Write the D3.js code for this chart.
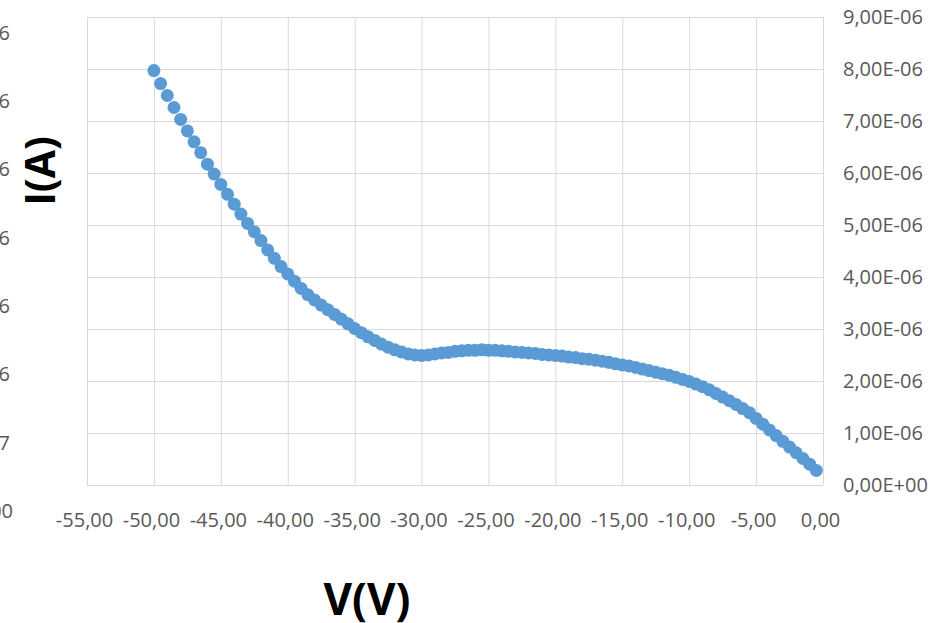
<!DOCTYPE html>
<html>
<head>
<meta charset="utf-8">
<script src="https://cdn.jsdelivr.net/npm/d3@7"></script>
<style>
  body { margin: 0; background: #fff; }
  svg { display: block; font-family: "Open Sans", sans-serif; }
  .tick text { fill: #595959; font-size: 20px; font-family: "Open Sans", sans-serif; }
  .grid line { stroke: #d9d9d9; stroke-width: 1; }
  .grid .domain { display: none; }
  .axisTitle { font-weight: bold; fill: #000; font-family: "Open Sans", sans-serif; }
</style>
</head>
<body>
<div id="chart"></div>
<script>
// measured V (volts)
var voltage = [
  -50, -49.5, -49, -48.5, -48, -47.5, -47, -46.5, -46, -45.5,
  -45, -44.5, -44, -43.5, -43, -42.5, -42, -41.5, -41, -40.5,
  -40, -39.5, -39, -38.5, -38, -37.5, -37, -36.5, -36, -35.5,
  -35, -34.5, -34, -33.5, -33, -32.5, -32, -31.5, -31, -30.5,
  -30, -29.5, -29, -28.5, -28, -27.5, -27, -26.5, -26, -25.5,
  -25, -24.5, -24, -23.5, -23, -22.5, -22, -21.5, -21, -20.5,
  -20, -19.5, -19, -18.5, -18, -17.5, -17, -16.5, -16, -15.5,
  -15, -14.5, -14, -13.5, -13, -12.5, -12, -11.5, -11, -10.5,
  -10, -9.5, -9, -8.5, -8, -7.5, -7, -6.5, -6, -5.5,
  -5, -4.5, -4, -3.5, -3, -2.5, -2, -1.5, -1, -0.5
];

// measured I (amperes)
var current = [
  7.97e-6, 7.72e-6, 7.49e-6, 7.26e-6, 7.03e-6, 6.81e-6, 6.60e-6, 6.39e-6, 6.17e-6, 5.98e-6,
  5.78e-6, 5.59e-6, 5.40e-6, 5.21e-6, 5.03e-6, 4.87e-6, 4.70e-6, 4.52e-6, 4.36e-6, 4.20e-6,
  4.06e-6, 3.92e-6, 3.78e-6, 3.66e-6, 3.56e-6, 3.46e-6, 3.37e-6, 3.28e-6, 3.19e-6, 3.10e-6,
  3.01e-6, 2.93e-6, 2.85e-6, 2.78e-6, 2.71e-6, 2.65e-6, 2.60e-6, 2.56e-6, 2.52e-6, 2.50e-6,
  2.49e-6, 2.50e-6, 2.52e-6, 2.54e-6, 2.55e-6, 2.57e-6, 2.58e-6, 2.59e-6, 2.59e-6, 2.60e-6,
  2.59e-6, 2.59e-6, 2.58e-6, 2.57e-6, 2.56e-6, 2.55e-6, 2.54e-6, 2.53e-6, 2.51e-6, 2.50e-6,
  2.49e-6, 2.48e-6, 2.46e-6, 2.45e-6, 2.43e-6, 2.42e-6, 2.40e-6, 2.38e-6, 2.36e-6, 2.33e-6,
  2.31e-6, 2.29e-6, 2.26e-6, 2.23e-6, 2.20e-6, 2.17e-6, 2.14e-6, 2.11e-6, 2.07e-6, 2.03e-6,
  1.99e-6, 1.94e-6, 1.89e-6, 1.83e-6, 1.76e-6, 1.69e-6, 1.62e-6, 1.55e-6, 1.47e-6, 1.39e-6,
  1.28e-6, 1.17e-6, 1.06e-6, 0.95e-6, 0.84e-6, 0.73e-6, 0.62e-6, 0.51e-6, 0.40e-6, 0.28e-6
];

var xTicks = [-55, -50, -45, -40, -35, -30, -25, -20, -15, -10, -5, 0];
var rightTicks = [0, 1e-6, 2e-6, 3e-6, 4e-6, 5e-6, 6e-6, 7e-6, 8e-6, 9e-6];
// left (primary) axis, mostly cut off by the picture edge
var leftTicks = [0, 5e-7, 1e-6, 1.5e-6, 2e-6, 2.5e-6, 3e-6, 3.5e-6];

var data = voltage.map(function(v, i) { return {v: v, i: current[i]}; });

var width = 949, height = 623;
var plot = {left: 87, right: 823, top: 17, bottom: 485};

var svg = d3.select("#chart").append("svg")
    .attr("width", width)
    .attr("height", height);

var x = d3.scaleLinear().domain([-55, 0]).range([plot.left, plot.right]);
var y = d3.scaleLinear().domain([0, 9e-6]).range([plot.bottom, plot.top]);
var yLeft = d3.scaleLinear().domain([0, 3.5e-6]).range([511, 33]);

function sci(v) {
  // Excel style: 9,00E-06
  var s = v.toExponential(2).split("e");
  var exp = +s[1];
  var e = (exp < 0 ? "-" : "+") + (Math.abs(exp) < 10 ? "0" : "") + Math.abs(exp);
  return s[0].replace(".", ",") + "E" + e;
}
function dec(v) { return v.toFixed(2).replace(".", ","); }

// gridlines
svg.append("g")
    .attr("class", "grid")
    .attr("transform", "translate(0," + plot.bottom + ")")
    .call(d3.axisBottom(x).tickValues(xTicks).tickSize(-(plot.bottom - plot.top)).tickFormat(""));
svg.append("g")
    .attr("class", "grid")
    .attr("transform", "translate(" + plot.left + ",0)")
    .call(d3.axisLeft(y).tickValues(rightTicks).tickSize(-(plot.right - plot.left)).tickFormat(""));

// x axis labels
var xAxis = svg.append("g")
    .attr("transform", "translate(0,509)")
    .call(d3.axisBottom(x).tickValues(xTicks).tickSize(0).tickPadding(4).tickFormat(dec));
xAxis.select(".domain").remove();
xAxis.selectAll("text").attr("dx", -3);

// right axis labels
var rAxis = svg.append("g")
    .attr("transform", "translate(" + plot.right + ",0)")
    .call(d3.axisRight(y).tickValues(rightTicks).tickSize(0).tickPadding(20).tickFormat(sci));
rAxis.select(".domain").remove();

// left axis labels
var lAxis = svg.append("g")
    .attr("transform", "translate(10,0)")
    .call(d3.axisLeft(yLeft).tickValues(leftTicks).tickSize(0).tickPadding(0).tickFormat(sci));
lAxis.select(".domain").remove();
lAxis.selectAll("text").filter(function(d) { return d === 0; }).attr("dx", 3);

// dots
svg.append("g").selectAll("circle")
    .data(data)
    .enter().append("circle")
    .attr("cx", function(d) { return x(d.v); })
    .attr("cy", function(d) { return y(d.i); })
    .attr("r", 6.5)
    .attr("fill", "#5b9bd5");

// axis titles
svg.append("text")
    .attr("class", "axisTitle")
    .attr("transform", "translate(55,171) rotate(-90)")
    .attr("text-anchor", "middle")
    .style("font-size", "41px")
    .text("I(A)");
svg.append("text")
    .attr("class", "axisTitle")
    .attr("x", 367)
    .attr("y", 615)
    .attr("text-anchor", "middle")
    .style("font-size", "44px")
    .text("V(V)");
</script>
</body>
</html>
